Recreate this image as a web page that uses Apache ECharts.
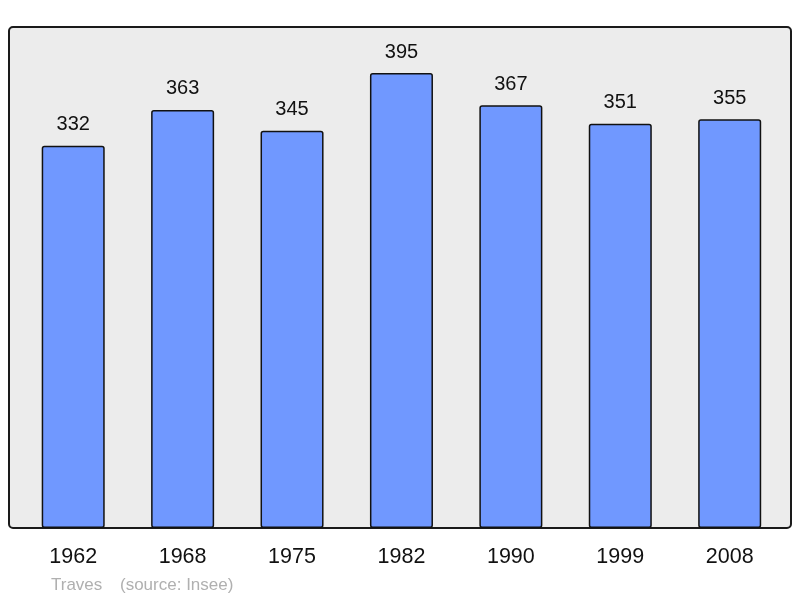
<!DOCTYPE html>
<html>
<head>
<meta charset="utf-8">
<script src="https://cdn.jsdelivr.net/npm/echarts@6/dist/echarts.min.js"></script>
<style>html,body{margin:0;padding:0;background:#fff}#c{width:800px;height:598px}</style>
</head>
<body>
<div id="c"></div>
<script>
const categories = ['1962', '1968', '1975', '1982', '1990', '1999', '2008'];
const population = [332, 363, 345, 395, 367, 351, 355];
const townName = 'Traves';
const sourceText = '(source: Insee)';

const chart = echarts.init(document.getElementById('c'), null, {renderer: 'canvas'});
chart.setOption({
  animation: false,
  backgroundColor: '#ffffff',
  textStyle: {fontFamily: 'Liberation Sans, Arial, sans-serif'},
  grid: {left: 18.5, right: 15.6, top: 27, bottom: 70, containLabel: false},
  graphic: [
    {type: 'rect', z: -10, silent: true,
     shape: {x: 9, y: 27, width: 782, height: 501, r: 4},
     style: {fill: '#ececec', stroke: '#1a1a1a', lineWidth: 2}},
    {type: 'text', left: 51, top: 577, silent: true,
     style: {text: townName, fill: '#b0b0b0', font: '17px "Liberation Sans", Arial, sans-serif'}},
    {type: 'text', left: 120, top: 577, silent: true,
     style: {text: sourceText, fill: '#b0b0b0', font: '17px "Liberation Sans", Arial, sans-serif'}}
  ],
  xAxis: {
    type: 'category', data: categories,
    axisLine: {show: false}, axisTick: {show: false},
    axisLabel: {color: '#111', fontSize: 21.5, margin: 18, fontFamily: 'Liberation Sans, Arial, sans-serif'}
  },
  yAxis: {
    type: 'value', min: 0, max: 435, show: false, splitLine: {show: false}
  },
  series: [{
    type: 'bar', data: population, barWidth: '57.6%',
    itemStyle: {color: '#7098ff', borderColor: '#111', borderWidth: 1.5, borderRadius: 2},
    label: {show: true, position: 'top', distance: 11, color: '#111', fontSize: 20,
            fontFamily: 'Liberation Sans, Arial, sans-serif'}
  }]
});
</script>
</body>
</html>
